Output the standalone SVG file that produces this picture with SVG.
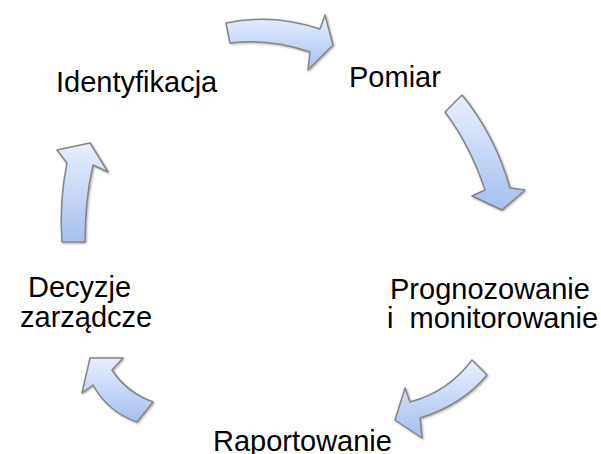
<svg xmlns="http://www.w3.org/2000/svg" width="601" height="454" viewBox="0 0 601 454">
<defs>
<linearGradient id="g" x1="0" y1="0" x2="0" y2="1">
<stop offset="0" stop-color="#e8effc"/>
<stop offset="1" stop-color="#a6c0f0"/>
</linearGradient>
<filter id="sh" x="-20%" y="-20%" width="140%" height="140%">
<feDropShadow dx="1" dy="1" stdDeviation="1" flood-color="#555" flood-opacity="0.5"/>
</filter>
</defs>
<style>
.arr{fill:url(#g);stroke:#858585;stroke-width:1.5;stroke-linejoin:round;filter:url(#sh)}
.lbl{font-family:"Liberation Sans",Arial,sans-serif;font-size:29px;fill:#000}
</style>
<rect width="601" height="454" fill="#fff"/>
<g id="connectors">
<path class="arr" d="M226,23 Q272,13 320,29 L325,15 L333,45 L308,70 L310,52 Q270,38 230,43 Z"/>
<path class="arr" d="M462,95 Q495,135 510,188 L525,190 L502,210 L472,196 L485,190 Q470,145 445,112 Z"/>
<path class="arr" d="M472,360 L487,375 Q462,405 420,418 L422,438 L395,420 L405,388 L410,402 Q448,392 472,360 Z"/>
<path class="arr" d="M90,358 L123,358 L112,370 Q126,392 153,402 L137,422 Q108,412 93,385 L82,393 Z"/>
<path class="arr" d="M62,242 Q59,202 67,163 L57,150 L90,143 L108,172 L93,165 Q85,200 85,242 Z"/>
</g>
<g id="identyfikacja"><text class="lbl" x="56" y="92">Identyfikacja</text></g>
<g id="pomiar"><text class="lbl" x="349" y="87">Pomiar</text></g>
<g id="prognozowanie"><text class="lbl" x="390" y="299">Prognozowanie</text><text class="lbl" x="387" y="328" xml:space="preserve">i  monitorowanie</text></g>
<g id="raportowanie"><text class="lbl" x="213" y="451">Raportowanie</text></g>
<g id="decyzje"><text class="lbl" x="28" y="297">Decyzje</text><text class="lbl" x="20" y="327">zarządcze</text></g>
</svg>
